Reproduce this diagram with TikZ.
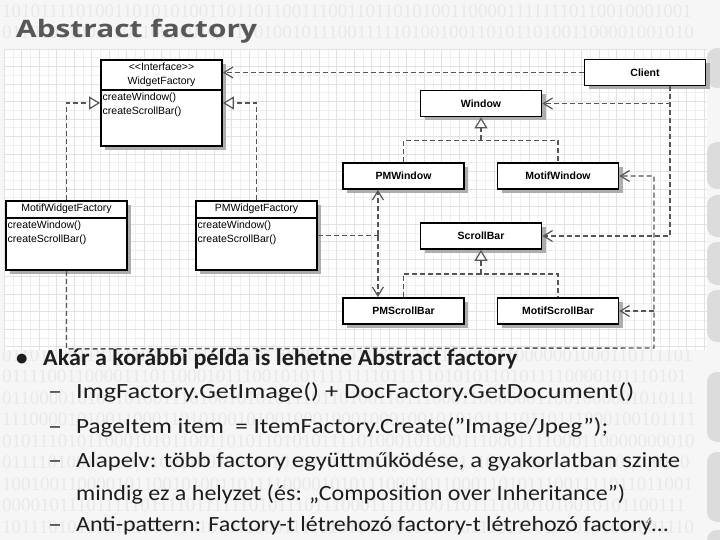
\documentclass[tikz,border=0pt]{standalone}
\usepackage{fontspec}
\usepackage{graphicx}
\setmainfont{Liberation Sans}
\newfontfamily\bodyfont{Carlito}
\newfontfamily\titlefont{Open Sans}
\newfontfamily\digitfont{Liberation Serif}
\usetikzlibrary{arrows.meta,shadows,calc}
\definecolor{bgc}{HTML}{F6F6F6}
\definecolor{digc}{HTML}{E9E9E9}
\definecolor{gridminor}{HTML}{F0F0F0}
\definecolor{gridmajor}{HTML}{E2E2E2}
\definecolor{conn}{HTML}{555555}
\definecolor{titlec}{HTML}{575757}
\definecolor{bodyc}{HTML}{1E1E1E}
\definecolor{sidec}{HTML}{DCDCDC}
\newcommand\fitw[2]{\resizebox{#1}{\height}{#2}}
\begin{document}
\begin{tikzpicture}[x=1pt,y=-1pt,
  cls/.style={draw=black,line width=1.8pt,fill=white,minimum width=121pt,minimum height=26pt,inner sep=0pt,
    general shadow={fill=black!32,shadow xshift=4pt,shadow yshift=-4pt},
    font=\bfseries\fontsize{10.5}{12}\selectfont},
  facbox/.style={cls,minimum height=69pt},
  lbl/.style={inner sep=0pt,font=\fontsize{10.5}{12}\selectfont},
  conline/.style={draw=conn,line width=1.4pt,dash pattern=on 5pt off 3pt},
  dep/.style={conline,-{Straight Barb[length=9pt,width=11pt,line width=1.2pt]}},
  real/.style={conline,-{Triangle[open,length=11pt,width=13pt,line width=1.2pt,fill=white]}},
  digits/.style={inner sep=0pt,anchor=west,text=digc,font=\digitfont\fontsize{19}{20}\selectfont},
  txt/.style={inner sep=0pt,anchor=base west,text=bodyc,font=\bodyfont\fontsize{21.7}{26}\selectfont},
  side/.style={fill=sidec,rounded corners=10pt}
]
\useasboundingbox (0,0) rectangle (720,540);
\fill[bgc] (0,0) rectangle (720,540);
% background binary texture
\node[digits] (d0) at (2,11) {10101111010011010101001101101100111001101101010011000011111110110010001001};
\node[digits] (d1) at (2,32.5) {01101011001110110010010111001001011100111110100100110101101001100001001010};
\node[digits] (d16) at (2,355) {01101000110111101011001001101100001110110000101110010110000001000110111101};
\node[digits] (d17) at (2,376.5) {01111001100001110110001011100101011111111011111010101101011110000101110101};
\node[digits] (d18) at (2,398) {01100001010110100111010010101011101101001101110001100000011001000001010111};
\node[digits] (d19) at (2,419.5) {11100001010011000110101001010010001000100010010101011110110111000100101111};
\node[digits] (d20) at (2,441) {01011101011000101011001101011010101111010001010001110001111000110000000010};
\node[digits] (d21) at (2,462.5) {01111010010111011001100100111101101011011001001001110111001101011101100110};
\node[digits] (d22) at (2,484) {10010011000010110010100110111100001010111000001100011010111001111011011001};
\node[digits] (d23) at (2,505.5) {00001011101111101111011111101011101110001111010011011110001010010101100111};
\node[digits] (d24) at (2,527) {10111010100110100111010101100011110101010001101010111011001010101011001110};
% diagram canvas
\fill[white] (4,49) rectangle (707,350);
\foreach \i in {0,...,80} \draw[gridminor,line width=0.5pt] ({4+\i*8.75},49) -- ({4+\i*8.75},350);
\foreach \j in {0,...,34} \draw[gridminor,line width=0.5pt] (4,{49+\j*8.75}) -- (707,{49+\j*8.75});
\foreach \i in {0,...,40} \draw[gridmajor,line width=0.6pt] ({4+\i*17.5},49) -- ({4+\i*17.5},350);
\foreach \j in {0,...,17} \draw[gridmajor,line width=0.6pt] (4,{49+\j*17.5}) -- (707,{49+\j*17.5});
% right side template shapes
\fill[side] (707,48) rectangle (740,88);
\fill[side] (707,142) rectangle (740,189);
\fill[side] (707,195) rectangle (740,237);
\fill[side] (707,242) rectangle (740,285);
\fill[side] (707,290) rectangle (740,342);
\fill[side] (707,372) rectangle (740,442);
\fill[side] (707,452) rectangle (740,522);
\fill[side] (707,530) rectangle (740,580);
% title
\node[inner sep=0pt,anchor=base west,text=titlec] (title) at (16,37.5)
  {\fitw{241pt}{\titlefont\bfseries\fontsize{24}{28}\selectfont Abstract factory}};
% classes
\node[cls] (client) at (645,72.5) {Client};
\node[cls] (window) at (481,103.5) {Window};
\node[cls] (pmwindow) at (403.5,176) {PMWindow};
\node[cls] (motifwindow) at (558,176) {MotifWindow};
\node[cls] (scrollbar) at (481,236) {ScrollBar};
\node[cls] (pmscrollbar) at (403.5,311) {PMScrollBar};
\node[cls] (motifscrollbar) at (558,311) {MotifScrollBar};
\node[cls,minimum height=86pt] (wf) at (161.5,103) {};
\draw[line width=1.8pt] (wf.west |- 0,90) -- (wf.east |- 0,90);
\node[lbl] (wfst) at (161.5,67) {<{}<Interface>{}>};
\node[lbl] (wfname) at (161.5,81.5) {WidgetFactory};
\node[lbl,anchor=west] (wfm1) at (102.5,97.5) {createWindow()};
\node[lbl,anchor=west] (wfm2) at (102.5,111.5) {createScrollBar()};
\node[facbox] (mwf) at (66.5,235.5) {};
\draw[line width=1.2pt] (mwf.west |- 0,218) -- (mwf.east |- 0,218);
\node[lbl] (mwfname) at (66.5,209) {MotifWidgetFactory};
\node[lbl,anchor=west] (mwfm1) at (7.5,226) {createWindow()};
\node[lbl,anchor=west] (mwfm2) at (7.5,239.5) {createScrollBar()};
\node[facbox] (pmwf) at (256.5,235.5) {};
\draw[line width=1.2pt] (pmwf.west |- 0,218) -- (pmwf.east |- 0,218);
\node[lbl] (pmwfname) at (256.5,209) {PMWidgetFactory};
\node[lbl,anchor=west] (pmwfm1) at (197.5,226) {createWindow()};
\node[lbl,anchor=west] (pmwfm2) at (197.5,239.5) {createScrollBar()};
% connectors
\draw[dep] (client.west) -- (client.west -| wf.east);
\coordinate (cj) at ($(client.south)+(25,0)$);
\draw[dep] (cj) |- (window.east);
\draw[dep] (cj) |- (scrollbar.east);
\coordinate (wj) at ($(window.south)+(0,23)$);
\draw[conline] (pmwindow.north) |- (wj) -| (motifwindow.north);
\draw[real] (wj) -- (window.south);
\coordinate (sj) at ($(scrollbar.south)+(0,24)$);
\draw[conline] (pmscrollbar.north) |- (sj) -| (motifscrollbar.north);
\draw[real] (sj) -- (scrollbar.south);
\draw[real] (mwf.north) |- (wf.west);
\draw[real] (pmwf.north) |- (wf.east);
\coordinate (pj) at ($(pmwf.east)+(60,0)$);
\draw[conline] (pmwf.east) -- (pj);
\draw[dep] (pj) -- (pj |- pmwindow.south);
\draw[dep] (pj) -- (pj |- pmscrollbar.north);
\coordinate (mb) at ($(mwf.south)+(0,78)$);
\coordinate (mr) at (654,348);
\draw[dep] (mwf.south) -- (mb) -- (mr) |- (motifwindow.east);
\draw[dep] (mr |- motifscrollbar.east) -- (motifscrollbar.east);
% bullet text
\node[txt,font=\bodyfont\bfseries\fontsize{23}{26}\selectfont] (bul) at (16,365) {•};
\node[txt,font=\bodyfont\bfseries\fontsize{23}{26}\selectfont] (l1) at (43,365) {\fitw{474pt}{Akár a korábbi példa is lehetne Abstract factory}};
\node[txt] (da2) at (48,398.5) {\fitw{14pt}{–}};
\node[txt] (l2) at (76,398.5) {\fitw{558pt}{ImgFactory.GetImage() + DocFactory.GetDocument()}};
\node[txt] (da3) at (48,433) {\fitw{14pt}{–}};
\node[txt] (l3) at (76,433) {\fitw{532pt}{PageItem item~ = ItemFactory.Create(”Image/Jpeg”);}};
\node[txt] (da4) at (48,467) {\fitw{14pt}{–}};
\node[txt] (l4) at (76,467) {\fitw{604pt}{Alapelv: több factory együttműködése, a gyakorlatban szinte}};
\node[txt] (l5) at (76,500) {\fitw{549pt}{mindig ez a helyzet (és: „Composition over Inheritance”)}};
\node[txt] (da6) at (48,531) {\fitw{14pt}{–}};
\node[txt] (l6) at (76,531) {\fitw{592pt}{Anti-pattern: Factory-t létrehozó factory-t létrehozó factory…}};
\node[inner sep=0pt,text=gray,font=\bodyfont\fontsize{12}{14}\selectfont] (pg) at (649,522) {4};
\end{tikzpicture}
\end{document}
